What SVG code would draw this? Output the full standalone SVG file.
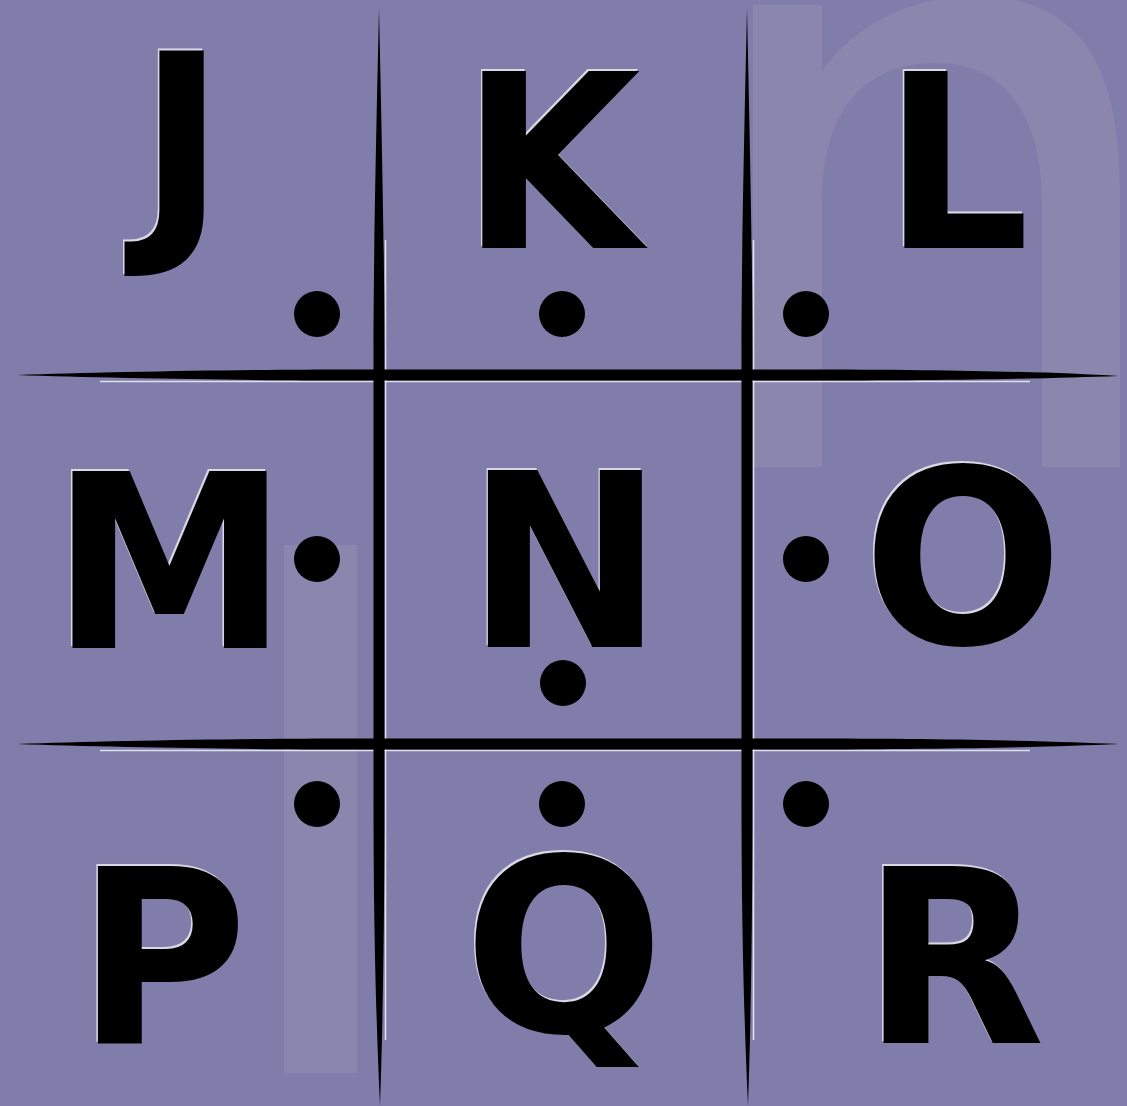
<svg xmlns="http://www.w3.org/2000/svg" width="1127" height="1106" viewBox="0 0 1127 1106">
<defs>
<style>
.bg{fill:#817dab}
.wm{fill:#8a86ae}
.ltr{font-family:"DejaVu Sans","Liberation Sans",sans-serif;font-weight:bold;font-size:243px;text-anchor:middle}
.ink{fill:#000}
.hl{fill:#ffffff;fill-opacity:0.7}
.dot{fill:#000}
.line{fill:#000}
.shine{stroke:#ffffff;stroke-width:1.6;stroke-opacity:0.75;fill:none}
</style>
</defs>
<rect class="bg" x="0" y="0" width="1127" height="1106"/>
<g id="watermark">
<path class="wm" d="M753,5 L822,5 L822,72 C850,30 905,-4 975,-4 C1075,-4 1120,60 1120,190 L1120,467 L1042,467 L1042,205 C1042,115 1005,63 935,63 C870,63 822,105 822,200 L822,467 L753,467 Z"/>
<rect class="wm" x="284" y="545" width="73" height="528"/>
</g>
<g id="cell-J"><g transform="translate(181.5,0) scale(0.97,1)"><text class="ltr hl" x="-1.5" y="225.5">J</text><text class="ltr ink" x="0" y="227">J</text></g><circle class="dot" cx="317" cy="314" r="23"/></g>
<g id="cell-K"><g transform="translate(551,0) scale(0.955,1)"><text class="ltr hl" x="-1.5" y="246.5">K</text><text class="ltr ink" x="0" y="248">K</text></g><circle class="dot" cx="562" cy="314" r="23"/></g>
<g id="cell-L"><g transform="translate(956.5,0) scale(0.946,1)"><text class="ltr hl" x="-1.5" y="246.5">L</text><text class="ltr ink" x="0" y="248">L</text></g><circle class="dot" cx="806" cy="314" r="23"/></g>
<g id="cell-M"><g transform="translate(169.5,0) scale(0.985,1)"><text class="ltr hl" x="-1.5" y="646.5">M</text><text class="ltr ink" x="0" y="648">M</text></g><circle class="dot" cx="317" cy="559" r="23"/></g>
<g id="cell-N"><g transform="translate(565,0) scale(0.97,1)"><text class="ltr hl" x="-1.5" y="645.5">N</text><text class="ltr ink" x="0" y="647">N</text></g><circle class="dot" cx="563" cy="683" r="23"/></g>
<g id="cell-O"><g transform="translate(963,0) scale(0.97,1)"><text class="ltr hl" x="-1.5" y="642.5">O</text><text class="ltr ink" x="0" y="644">O</text></g><circle class="dot" cx="806" cy="559" r="23"/></g>
<g id="cell-P"><g transform="translate(162,0) scale(0.96,1)"><text class="ltr hl" x="-1.5" y="1041.5">P</text><text class="ltr ink" x="0" y="1043">P</text></g><circle class="dot" cx="317" cy="804" r="23"/></g>
<g id="cell-Q"><g transform="translate(564,0) scale(0.97,1)"><text class="ltr hl" x="-1.5" y="1030.5">Q</text><text class="ltr ink" x="0" y="1032">Q</text></g><circle class="dot" cx="562" cy="804" r="23"/></g>
<g id="cell-R"><g transform="translate(953.5,0) scale(0.98,1)"><text class="ltr hl" x="-1.5" y="1041.5">R</text><text class="ltr ink" x="0" y="1043">R</text></g><circle class="dot" cx="806" cy="804" r="23"/></g>
<g id="connectors">
<path class="shine" d="M385.5,240 L385.5,1040"/>
<path class="shine" d="M753.5,240 L753.5,1040"/>
<path class="shine" d="M100,381.5 L1030,381.5"/>
<path class="shine" d="M100,750.5 L1030,750.5"/>
<path class="line" d="M379,8 C381,100 384.5,250 384.5,350 L384.5,800 C384.5,950 382,1050 380,1106 C377.5,1050 373.5,950 373.5,800 L373.5,350 C373.5,250 377,100 379,8 Z"/>
<path class="line" d="M747,8 C749,100 752.5,250 752.5,350 L752.5,800 C752.5,950 750,1050 748,1106 C745.5,1050 741.5,950 741.5,800 L741.5,350 C741.5,250 745,100 747,8 Z"/>
<path class="line" d="M17,375 C100,372 250,369.5 350,369.5 L800,369.5 C950,369.5 1050,372 1119,376 C1050,378.5 950,380.5 800,380.5 L350,380.5 C250,380.5 100,378 17,375 Z"/>
<path class="line" d="M17,744 C100,741 250,738.5 350,738.5 L800,738.5 C950,738.5 1050,741 1119,744 C1050,747 950,749.5 800,749.5 L350,749.5 C250,749.5 100,747 17,744 Z"/>
</g>
</svg>
